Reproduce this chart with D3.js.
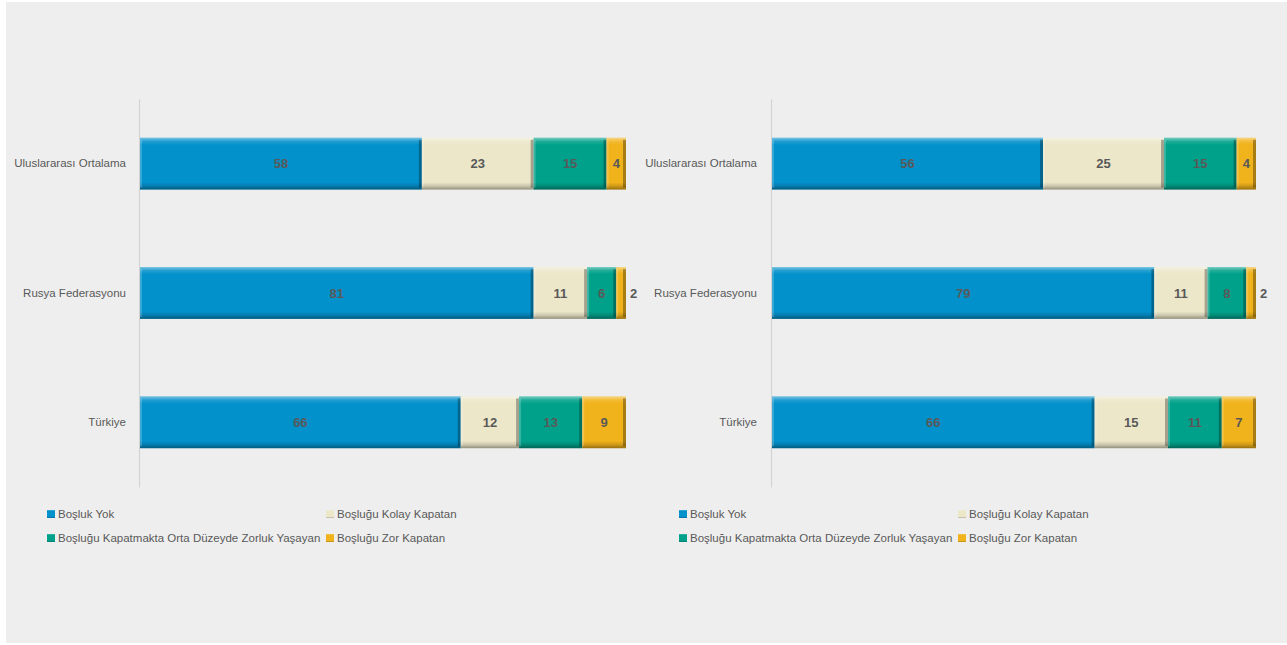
<!DOCTYPE html>
<html><head><meta charset="utf-8">
<script src="https://cdn.jsdelivr.net/npm/d3@7"></script>
<style>body{margin:0;background:#fff;}svg{display:block;font-family:"Liberation Sans",Arial,sans-serif;}</style>
</head><body>
<svg id="c" width="1287" height="645"></svg>
<script>
const categories = ["Uluslararası Ortalama", "Rusya Federasyonu", "Türkiye"];
const seriesNames = ["Boşluk Yok", "Boşluğu Kolay Kapatan", "Boşluğu Kapatmakta Orta Düzeyde Zorluk Yaşayan", "Boşluğu Zor Kapatan"];
const seriesColors = ["#0391cb", "#ece7c9", "#00a18a", "#f1b31b"];

// Left chart
const leftBoslukYok = [58, 81, 66];
const leftKolay = [23, 11, 12];
const leftOrta = [15, 6, 13];
const leftZor = [4, 2, 9];
// Right chart
const rightBoslukYok = [56, 79, 66];
const rightKolay = [25, 11, 15];
const rightOrta = [15, 8, 11];
const rightZor = [4, 2, 7];

const svg = d3.select("#c");
svg.append("rect").attr("x", 6).attr("y", 2).attr("width", 1281).attr("height", 641).attr("fill", "#eeeeee");

const defs = svg.append("defs");
const vg = defs.append("linearGradient").attr("id", "bevV").attr("x1", 0).attr("y1", 0).attr("x2", 0).attr("y2", 1);
[[0, "#fff", 0.45], [0.07, "#fff", 0.12], [0.14, "#fff", 0], [0.86, "#000", 0], [0.93, "#000", 0.14], [1, "#000", 0.38]]
  .forEach(s => vg.append("stop").attr("offset", s[0]).attr("stop-color", s[1]).attr("stop-opacity", s[2]));

function drawChart(x0, x1, yTop, yBot, seriesArrays, labelRight, legendX, legendCol2) {
  const g = svg.append("g");
  const rows = categories.map((c, i) => {
    const o = { cat: c };
    seriesNames.forEach((s, k) => o[s] = seriesArrays[k][i]);
    return o;
  });
  const stack = d3.stack().keys(seriesNames).offset(d3.stackOffsetExpand);
  const layers = stack(rows);
  const x = d3.scaleLinear().domain([0, 1]).range([x0, x1]);
  const y = d3.scaleBand().domain(categories).range([yTop, yBot]).paddingInner(0.6).paddingOuter(0.3);

  const axis = d3.axisLeft(y).tickSize(0).tickPadding(labelRight);
  const ag = g.append("g").attr("transform", `translate(${x0 - 1},0)`).call(axis);
  ag.select(".domain").attr("stroke", "#d4d4d4").attr("stroke-width", 1.2);
  ag.selectAll("text").attr("font-size", 11.5).attr("fill", "#595959")
    .attr("font-family", '"Liberation Sans",Arial,sans-serif');

  layers.forEach((layer, k) => {
    const lg = g.append("g");
    layer.forEach((d, i) => {
      const xa = x(d[0]), xb = x(d[1]), yy = y(categories[i]), h = y.bandwidth();
      const w = xb - xa;
      lg.append("rect").attr("x", xa).attr("y", yy).attr("width", w).attr("height", h).attr("fill", seriesColors[k]);
      lg.append("rect").attr("x", xa).attr("y", yy).attr("width", w).attr("height", h).attr("fill", "url(#bevV)");
      lg.append("rect").attr("x", xa).attr("y", yy + 2).attr("width", Math.min(2, w)).attr("height", h - 4).attr("fill", "#fff").attr("opacity", 0.2);
      lg.append("rect").attr("x", xb - Math.min(3, w)).attr("y", yy + 2).attr("width", Math.min(3, w)).attr("height", h - 4).attr("fill", "#000").attr("opacity", 0.3);
      const v = seriesArrays[k][i];
      const outside = v < 3;
      lg.append("text")
        .attr("x", outside ? xb + 4 : (xa + xb) / 2)
        .attr("y", yy + h / 2)
        .attr("dy", "0.36em")
        .attr("text-anchor", outside ? "start" : "middle")
        .attr("font-size", 13).attr("font-weight", "bold").attr("fill", "#595959")
        .text(v);
    });
  });

  const lgd = g.append("g");
  const pos = [[legendX, 514], [legendCol2, 514], [legendX, 538], [legendCol2, 538]];
  seriesNames.forEach((s, k) => {
    const [lx, ly] = pos[k];
    lgd.append("rect").attr("x", lx).attr("y", ly - 4).attr("width", 8).attr("height", 8).attr("fill", seriesColors[k]);
    lgd.append("rect").attr("x", lx).attr("y", ly - 4).attr("width", 8).attr("height", 8).attr("fill", "url(#bevV)");
    lgd.append("text").attr("x", lx + 11).attr("y", ly).attr("dy", "0.36em")
      .attr("font-size", 11.5).attr("fill", "#595959").text(s);
  });
}

drawChart(140, 626, 99, 487, [leftBoslukYok, leftKolay, leftOrta, leftZor], 13, 47, 326);
drawChart(772, 1256, 99, 487, [rightBoslukYok, rightKolay, rightOrta, rightZor], 14, 679, 958);
</script>
</body></html>
